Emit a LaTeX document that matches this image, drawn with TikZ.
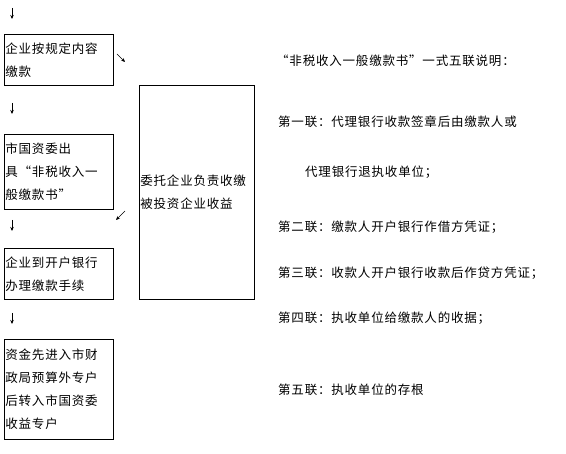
\documentclass[tikz,border=0pt]{standalone}
\usepackage{fontspec}
\setmainfont[LetterSpace=6.4]{Noto Sans CJK SC}
\usetikzlibrary{arrows.meta,positioning}

\begin{document}
\begin{tikzpicture}[x=1pt,y=-1pt,font=\fontsize{12.5}{23}\selectfont,
      box/.style={rectangle, draw, line width=0.8pt, anchor=north west, inner xsep=1pt, inner ysep=0pt,
                  align=left, text width=107pt, minimum width=109pt},
      note/.style={anchor=west, inner sep=0pt},
      arr/.style={-{Stealth[length=4pt,width=3.5pt]}, line width=0.6pt}]
    \useasboundingbox (0,0) rectangle (566,454);
    % left column
    \node[box, minimum height=51pt] (pay) at (4,34) {企业按规定内容\\缴款};
    \node[box, minimum height=75pt] (issue) at (4,134) {市国资委出\\具“非税收入一\\般缴款书”};
    \node[box, minimum height=51pt] (bank) at (4,248) {企业到开户银行\\办理缴款手续};
    \node[box, minimum height=100pt] (fund) at (4,339) {资金先进入市财\\政局预算外专户\\后转入市国资委\\收益专户};
    % middle box
    \node[box, minimum height=214pt, text width=113pt, minimum width=115pt] (entrust) at (139,85) {委托企业负责收缴\\被投资企业收益};
    % small arrows
    \coordinate (d0s) at (12,8);   \coordinate (d0e) at (12,19);
    \coordinate (d1s) at (12,103); \coordinate (d1e) at (12,114);
    \coordinate (d2s) at (12,220); \coordinate (d2e) at (12,231);
    \coordinate (d3s) at (12,313); \coordinate (d3e) at (12,324);
    \coordinate (g0s) at (117,54); \coordinate (g0e) at (125,62);
    \coordinate (g1s) at (125,211); \coordinate (g1e) at (116,220);
    \foreach \s/\e in {d0s/d0e,d1s/d1e,d2s/d2e,d3s/d3e,g0s/g0e,g1s/g1e}
      \draw[arr] (\s) -- (\e);
    % right column
    \node[note] (title) at (276,61) {“非税收入一般缴款书”一式五联说明：};
    \node[note] (first) at (278,122) {第一联：代理银行收款签章后由缴款人或};
    \node[note] (firstb) at (305,172) {代理银行退执收单位；};
    \node[note] (second) at (278,227) {第二联：缴款人开户银行作借方凭证；};
    \node[note] (third) at (278,273) {第三联：收款人开户银行收款后作贷方凭证；};
    \node[note] (fourth) at (278,318) {第四联：执收单位给缴款人的收据；};
    \node[note] (fifth) at (278,390) {第五联：执收单位的存根};
\end{tikzpicture}
\end{document}
